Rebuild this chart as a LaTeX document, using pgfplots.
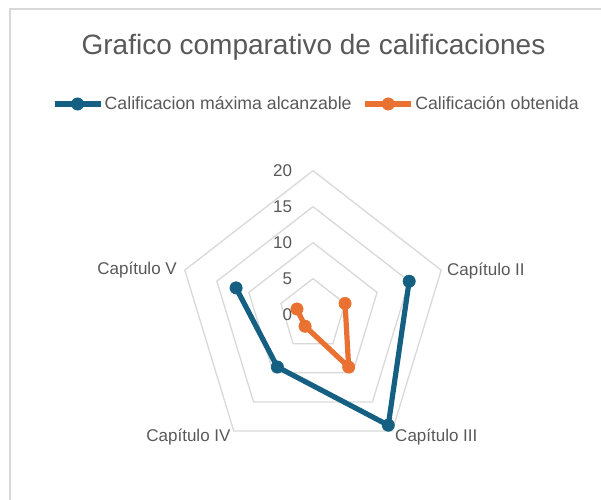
\documentclass[border=0pt]{standalone}
\usepackage{fontspec}
\setmainfont{Liberation Sans}
\usepackage{pgfplots}
\pgfplotsset{compat=1.18}
\definecolor{accblue}{HTML}{156082}
\definecolor{accorange}{HTML}{E97132}
\definecolor{txtgray}{HTML}{595959}
\definecolor{gridgray}{HTML}{D9D9D9}
\newcommand{\lblfont}{\fontsize{17bp}{20bp}\selectfont}
\begin{document}
\begin{tikzpicture}
\useasboundingbox (0,0) rectangle (601bp,500bp);
\fill[white] (0,0) rectangle (601bp,500bp);
\draw[gridgray, line width=1.3bp] (10bp,0) -- (10bp,491bp) -- (601bp,491bp);
\node[anchor=base, text=txtgray, inner sep=0pt, font=\fontsize{28bp}{32bp}\selectfont] at (313.5bp,445bp) {Grafico comparativo de calificaciones};
\begin{axis}[
  anchor=origin, at={(313bp,185.4bp)},
  x=6.74bp, y=7.195bp,
  xmin=-20, xmax=20, ymin=-20, ymax=20,
  hide axis, clip=false,
  legend columns=2,
  legend style={at={(-0.4688,1.2318)}, anchor=west, draw=none, fill=none,
    font=\fontsize{17.7bp}{21bp}\selectfont, text=txtgray, inner sep=0pt,
    nodes={inner sep=0pt},
    /tikz/every odd column/.append style={column sep=1.5bp},
    /tikz/every even column/.append style={column sep=11bp}},
  legend image code/.code={\draw[mark repeat=2,mark phase=2,#1] plot coordinates {(0bp,0bp)(23bp,0bp)(46bp,0bp)};},
]
% grid rings
\addplot[gridgray, line width=1.3bp, data cs=polar, forget plot] coordinates {(90,5)(18,5)(-54,5)(-126,5)(162,5)(90,5)};
\addplot[gridgray, line width=1.3bp, data cs=polar, forget plot] coordinates {(90,10)(18,10)(-54,10)(-126,10)(162,10)(90,10)};
\addplot[gridgray, line width=1.3bp, data cs=polar, forget plot] coordinates {(90,15)(18,15)(-54,15)(-126,15)(162,15)(90,15)};
\addplot[gridgray, line width=1.3bp, data cs=polar, forget plot] coordinates {(90,20)(18,20)(-54,20)(-126,20)(162,20)(90,20)};
% series (Capitulo I blank)
\addplot[accblue, line width=5.2bp, line join=round, mark=*, mark size=6.2bp, mark options={solid, fill=accblue, draw=accblue, line width=0.5bp}, data cs=polar]
  coordinates {(18,15)(-54,19)(-126,9)(162,12)};
\addlegendentry{Calificacion máxima alcanzable}
\addplot[accorange, line width=5.2bp, line join=round, mark=*, mark size=6.2bp, mark options={solid, fill=accorange, draw=accorange, line width=0.5bp}, data cs=polar]
  coordinates {(18,5)(-54,9)(-126,2)(162,2.5)};
\addlegendentry{Calificación obtenida}
% radial tick labels
\node[anchor=east, inner sep=0pt, text=txtgray, font=\lblfont] at (axis cs:-3.07,0) {0};
\node[anchor=east, inner sep=0pt, text=txtgray, font=\lblfont] at (axis cs:-3.07,5) {5};
\node[anchor=east, inner sep=0pt, text=txtgray, font=\lblfont] at (axis cs:-3.07,10) {10};
\node[anchor=east, inner sep=0pt, text=txtgray, font=\lblfont] at (axis cs:-3.07,15) {15};
\node[anchor=east, inner sep=0pt, text=txtgray, font=\lblfont] at (axis cs:-3.07,20) {20};
% category labels
\node[anchor=base west, inner sep=0pt, text=txtgray, font=\lblfont] at (axis cs:19.88,5.5) {Capítulo II};
\node[anchor=base west, inner sep=0pt, text=txtgray, font=\lblfont] at (axis cs:12.17,-17.66) {Capítulo III};
\node[anchor=base east, inner sep=0pt, text=txtgray, font=\lblfont] at (axis cs:-12.21,-17.66) {Capítulo IV};
\node[anchor=base east, inner sep=0pt, text=txtgray, font=\lblfont] at (axis cs:-20.18,5.64) {Capítulo V};
\end{axis}
\end{tikzpicture}
\end{document}
